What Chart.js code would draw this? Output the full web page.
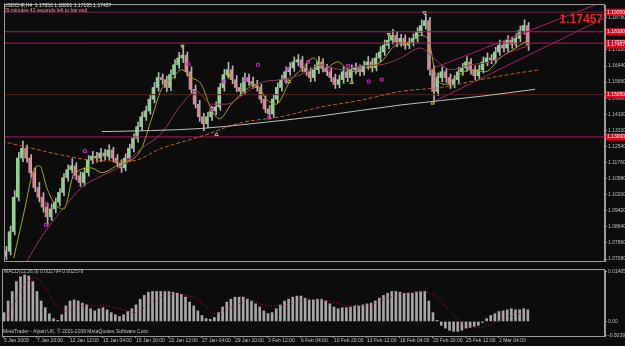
<!DOCTYPE html>
<html>
<head>
<meta charset="utf-8">
<script src="https://cdn.jsdelivr.net/npm/chart.js@4.4.1/dist/chart.umd.min.js"></script>
<style>
  body { margin: 0; background: #0c0c0c; width: 625px; height: 346px; overflow: hidden; position: relative; }
  canvas { position: absolute; left: 0; }
  #main { top: 0; }
  #macd { top: 266px; }
</style>
</head>
<body>
<canvas id="main" width="625" height="266"></canvas>
<canvas id="macd" width="625" height="80"></canvas>
<script>
// USDCHF H4, one candle here = two H4 bars
const symbol = 'USDCHF,H4';
const lastQuote = [1.17650, 1.18001, 1.17195, 1.17457];
const countdown = '29 minutes 42 seconds left to bar end';
const macdTitle = 'MACD(12,26,9) 0.002794 0.002578';
const copyright = 'MetaTrader - Alpari UK, \u00a9 2001-2008 MetaQuotes Software Corp.';

const xLabels = ['5 Jan 2009', '7 Jan 20:00', '12 Jan 12:00', '15 Jan 04:00', '19 Jan 20:00', '22 Jan 12:00',
  '27 Jan 04:00', '29 Jan 20:00', '3 Feb 12:00', '6 Feb 04:00', '10 Feb 20:00', '13 Feb 12:00',
  '18 Feb 04:00', '20 Feb 20:00', '25 Feb 12:00', '2 Mar 04:00'];
const barsPerLabel = 8;

const priceTicks = [1.07080, 1.07860, 1.08640, 1.09420, 1.10200, 1.10980, 1.11760, 1.12540,
  1.13320, 1.14100, 1.14880, 1.15660, 1.16440, 1.17220, 1.18000, 1.18780];
const macdTicks = [0.01405, 0, -0.00395];

const opens = [1.0722,1.0746,1.0841,1.1008,1.1198,1.1245,1.1198,1.1127,1.1055,1.1008,
  1.0960,1.0913,1.0951,1.0984,1.1031,1.1103,1.1141,1.1160,1.1112,1.1079,
  1.1127,1.1188,1.1207,1.1198,1.1222,1.1207,1.1236,1.1198,1.1174,1.1150,
  1.1198,1.1245,1.1293,1.1350,1.1398,1.1426,1.1483,1.1540,1.1588,1.1578,
  1.1540,1.1602,1.1650,1.1683,1.1697,1.1616,1.1531,1.1459,1.1398,1.1364,
  1.1398,1.1426,1.1445,1.1540,1.1602,1.1626,1.1578,1.1540,1.1521,1.1588,
  1.1569,1.1555,1.1540,1.1483,1.1436,1.1412,1.1483,1.1540,1.1578,1.1616,
  1.1635,1.1664,1.1674,1.1635,1.1616,1.1588,1.1626,1.1664,1.1635,1.1616,
  1.1588,1.1555,1.1578,1.1616,1.1588,1.1626,1.1635,1.1616,1.1645,1.1664,
  1.1635,1.1683,1.1712,1.1745,1.1769,1.1792,1.1759,1.1778,1.1745,1.1759,
  1.1778,1.1807,1.1840,1.1864,1.1626,1.1521,1.1588,1.1616,1.1588,1.1555,
  1.1578,1.1616,1.1635,1.1664,1.1626,1.1597,1.1626,1.1664,1.1683,1.1674,
  1.1712,1.1745,1.1731,1.1769,1.1750,1.1778,1.1816,1.1840];
const highs = [1.0770,1.0868,1.1040,1.1225,1.1280,1.1260,1.1215,1.1150,1.1080,1.1030,
  1.0978,1.0975,1.1005,1.1050,1.1122,1.1165,1.1195,1.1175,1.1130,1.1150,
  1.1210,1.1230,1.1225,1.1245,1.1240,1.1262,1.1250,1.1215,1.1190,1.1218,
  1.1265,1.1315,1.1372,1.1420,1.1450,1.1505,1.1565,1.1612,1.1605,1.1595,
  1.1625,1.1675,1.1710,1.1745,1.1712,1.1640,1.1552,1.1478,1.1415,1.1420,
  1.1448,1.1470,1.1560,1.1628,1.1662,1.1645,1.1598,1.1560,1.1610,1.1605,
  1.1590,1.1575,1.1556,1.1500,1.1452,1.1505,1.1562,1.1600,1.1640,1.1660,
  1.1688,1.1700,1.1690,1.1655,1.1635,1.1650,1.1690,1.1680,1.1652,1.1632,
  1.1605,1.1600,1.1640,1.1632,1.1648,1.1658,1.1650,1.1668,1.1690,1.1680,
  1.1705,1.1738,1.1770,1.1795,1.1822,1.1810,1.1798,1.1795,1.1780,1.1800,
  1.1830,1.1868,1.1895,1.1880,1.1645,1.1610,1.1640,1.1632,1.1605,1.1598,
  1.1638,1.1658,1.1690,1.1680,1.1645,1.1648,1.1688,1.1708,1.1700,1.1735,
  1.1770,1.1762,1.1792,1.1785,1.1800,1.1838,1.1868,1.1855];
const lows = [1.0705,1.0728,1.0825,1.0990,1.1180,1.1178,1.1105,1.1035,1.0985,1.0935,
  1.0868,1.0895,1.0932,1.0965,1.1015,1.1085,1.1125,1.1092,1.1060,1.1062,
  1.1110,1.1170,1.1178,1.1180,1.1188,1.1190,1.1178,1.1155,1.1128,1.1135,
  1.1182,1.1228,1.1275,1.1330,1.1380,1.1410,1.1465,1.1522,1.1555,1.1520,
  1.1525,1.1585,1.1632,1.1660,1.1595,1.1510,1.1440,1.1375,1.1330,1.1345,
  1.1380,1.1408,1.1430,1.1522,1.1585,1.1558,1.1520,1.1500,1.1505,1.1550,
  1.1535,1.1522,1.1465,1.1418,1.1388,1.1395,1.1465,1.1522,1.1560,1.1598,
  1.1618,1.1645,1.1615,1.1598,1.1568,1.1570,1.1608,1.1615,1.1597,1.1568,
  1.1535,1.1538,1.1560,1.1568,1.1570,1.1606,1.1596,1.1600,1.1628,1.1615,
  1.1620,1.1665,1.1695,1.1728,1.1750,1.1738,1.1740,1.1725,1.1728,1.1742,
  1.1760,1.1790,1.1822,1.1600,1.1469,1.1500,1.1568,1.1565,1.1535,1.1538,
  1.1560,1.1598,1.1618,1.1605,1.1578,1.1580,1.1610,1.1645,1.1655,1.1658,
  1.1695,1.1712,1.1715,1.1730,1.1735,1.1762,1.1798,1.1720];
const closes = [1.0746,1.0841,1.1008,1.1198,1.1245,1.1198,1.1127,1.1055,1.1008,1.0960,
  1.0913,1.0951,1.0984,1.1031,1.1103,1.1141,1.1160,1.1112,1.1079,1.1127,
  1.1188,1.1207,1.1198,1.1222,1.1207,1.1236,1.1198,1.1174,1.1150,1.1198,
  1.1245,1.1293,1.1350,1.1398,1.1426,1.1483,1.1540,1.1588,1.1578,1.1540,
  1.1602,1.1650,1.1683,1.1697,1.1616,1.1531,1.1459,1.1398,1.1364,1.1398,
  1.1426,1.1445,1.1540,1.1602,1.1626,1.1578,1.1540,1.1521,1.1588,1.1569,
  1.1555,1.1540,1.1483,1.1436,1.1412,1.1483,1.1540,1.1578,1.1616,1.1635,
  1.1664,1.1674,1.1635,1.1616,1.1588,1.1626,1.1664,1.1635,1.1616,1.1588,
  1.1555,1.1578,1.1616,1.1588,1.1626,1.1635,1.1616,1.1645,1.1664,1.1635,
  1.1683,1.1712,1.1745,1.1769,1.1792,1.1759,1.1778,1.1745,1.1759,1.1778,
  1.1807,1.1840,1.1864,1.1626,1.1521,1.1588,1.1616,1.1588,1.1555,1.1578,
  1.1616,1.1635,1.1664,1.1626,1.1597,1.1626,1.1664,1.1683,1.1674,1.1712,
  1.1745,1.1731,1.1769,1.1750,1.1778,1.1816,1.1840,1.1746];

// moving averages, read at a few bars each: [bar, price]
const maFast = [[1.9,1.0713],[4.4,1.0936],[7.0,1.1150],[8.2,1.1160],[9.9,1.1055],[11.9,1.0974],[14.1,1.0951],
  [16.5,1.1117],[20.8,1.1150],[23.3,1.1127],[27.4,1.1165],[30.5,1.1188],[33.0,1.1245],[35.4,1.1388],
  [37.8,1.1531],[40.2,1.1578],[42.7,1.1626],[45.1,1.1588],[47.5,1.1555],[49.9,1.1436],[51.9,1.1388],
  [54.8,1.1459],[57.2,1.1507],[60.8,1.1555],[63.3,1.1483],[65.7,1.1459],[69.3,1.1578],[71.8,1.1626],
  [74.9,1.1683],[77.1,1.1626],[80.7,1.1664],[83.9,1.1616],[87.5,1.1635],[91.2,1.1664],[94.8,1.1745],
  [98.4,1.1759],[100.8,1.1792],[102.8,1.1769],[104.5,1.1602],[106.9,1.1555],[109.3,1.1588],[113.0,1.1626],
  [116.6,1.1616],[120.2,1.1683],[123.9,1.1731],[127.0,1.1769]];
const maMid = [[5.1,1.0698],[8.7,1.0817],[13.6,1.0946],[18.4,1.1055],[23.3,1.1112],[28.1,1.1160],[33.0,1.1245],
  [37.8,1.1317],[42.7,1.1459],[46.3,1.1521],[49.9,1.1459],[53.6,1.1459],[57.2,1.1498],[62.1,1.1564],
  [66.9,1.1578],[71.8,1.1602],[76.6,1.1650],[81.5,1.1626],[86.3,1.1645],[91.2,1.1650],[96.0,1.1683],
  [100.8,1.1731],[104.5,1.1674],[108.1,1.1626],[113.0,1.1650],[117.8,1.1664],[122.7,1.1712],[127.5,1.1745]];
const maSlow = [[-1.0,1.1279],[6.3,1.1245],[13.6,1.1212],[23.3,1.1184],[30.5,1.1184],[37.8,1.1245],[47.5,1.1303],
  [57.2,1.1369],[66.9,1.1398],[76.6,1.1445],[86.3,1.1478],[96.0,1.1521],[105.7,1.1540],[115.4,1.1578],
  [125.1,1.1612],[129.9,1.1626]];
const maLong = [[23.3,1.1326],[35.4,1.1331],[47.5,1.1341],[59.6,1.1364],[76.6,1.1402],[96.0,1.1455],
  [115.4,1.1497],[128.7,1.1531]];

const levels = [1.1905, 1.1810, 1.1755, 1.1505, 1.1300];
const channelUpper = [[103.0, 1.1626], [145.7, 1.1959]];
const channelLower = [[103.8, 1.1469], [145.7, 1.1878]];

const fractals = [[9.7,1.0874],[9.9,1.0974],[16.5,1.1108],[19.2,1.1231],[29.8,1.1188],[44.4,1.1654],[49.9,1.1431],
  [53.1,1.1569],[58.2,1.1578],[61.3,1.1650],[64.0,1.1393],[68.1,1.1574],[68.4,1.1631],[73.5,1.1664],
  [78.5,1.1631],[83.2,1.1645],[85.8,1.1631],[88.2,1.1569],[91.4,1.1578]];
const zigzagTops = [[42.9,1.1740],[54.1,1.1597],[93.1,1.1797],[101.8,1.1902]];
const zigzagBottoms = [[51.2,1.1312],[68.8,1.1569],[84.1,1.1564],[103.8,1.1464]];

const macdHist = [0.0025,0.0058,0.0085,0.0113,0.0127,0.0132,0.0129,0.0113,0.0085,0.0058,
  0.0039,0.0022,0.0008,0.0003,0.0019,0.0044,0.0058,0.0061,0.0058,0.0052,
  0.0047,0.0036,0.0030,0.0036,0.0039,0.0033,0.0025,0.0019,0.0014,0.0019,
  0.0028,0.0036,0.0047,0.0063,0.0074,0.0083,0.0085,0.0085,0.0085,0.0085,
  0.0085,0.0083,0.0080,0.0077,0.0069,0.0055,0.0044,0.0030,0.0017,0.0008,
  0.0006,0.0011,0.0025,0.0041,0.0055,0.0063,0.0069,0.0069,0.0069,0.0063,
  0.0058,0.0050,0.0041,0.0030,0.0022,0.0025,0.0036,0.0047,0.0058,0.0063,
  0.0069,0.0072,0.0072,0.0066,0.0061,0.0061,0.0063,0.0063,0.0058,0.0050,
  0.0041,0.0036,0.0039,0.0039,0.0041,0.0044,0.0044,0.0047,0.0050,0.0052,
  0.0058,0.0066,0.0074,0.0080,0.0085,0.0085,0.0083,0.0080,0.0080,0.0080,
  0.0083,0.0085,0.0085,0.0058,0.0025,0.0003,-0.0011,-0.0019,-0.0025,-0.0028,
  -0.0028,-0.0025,-0.0019,-0.0017,-0.0014,-0.0011,-0.0003,0.0008,0.0017,0.0022,
  0.0028,0.0030,0.0033,0.0036,0.0033,0.0033,0.0036,0.0033];
const macdSignal = [[0,-0.0003],[2.7,0.0058],[5.1,0.0107],[7.5,0.0124],[9.9,0.0099],[12.8,0.0044],[14.8,0.0030],
  [18.4,0.0044],[23.3,0.0044],[28.1,0.0036],[31.8,0.0025],[35.4,0.0052],[40.2,0.0077],[45.1,0.0072],
  [48.7,0.0044],[51.2,0.0022],[54.8,0.0039],[59.6,0.0058],[64.5,0.0044],[69.3,0.0050],[74.2,0.0063],
  [79.0,0.0058],[83.9,0.0044],[88.7,0.0047],[93.6,0.0069],[100.8,0.0085],[104.5,0.0072],[108.1,0.0030],
  [111.8,-0.0011],[115.4,-0.0017],[119.0,-0.0003],[122.7,0.0017],[127.0,0.0026]];

const xMin = -0.24, xMax = 145.7;
const FRAME = '#9a9a9a';
const TXT = '#c0c0c0';
const FONT = 'Liberation Sans';
const SMALL = 5;
const levelColors = ['#6a2848', '#b01c6a', '#b01c6a', '#5a2020', '#b01c6a'];

const pts = arr => arr.map(p => ({ x: p[0], y: p[1] }));
const bull = i => closes[i] >= opens[i];

const framePlugin = {
  id: 'frame',
  beforeDraw(chart) {
    const a = chart.chartArea, c = chart.ctx;
    c.save();
    c.strokeStyle = FRAME;
    c.lineWidth = 1;
    c.strokeRect(Math.round(a.left) - 0.5, Math.round(a.top) - 0.5, Math.round(a.right - a.left), Math.round(a.bottom - a.top) + 1);
    c.restore();
  }
};

const mainText = {
  id: 'mainText',
  afterDraw(chart) {
    const c = chart.ctx, y = chart.scales.y;
    c.save();
    c.textBaseline = 'middle';
    c.font = SMALL + 'px "' + FONT + '"';
    c.fillStyle = '#e0e0e0';
    c.fillText(symbol + '  ' + lastQuote.map(v => v.toFixed(5)).join(' '), 4, 6);
    c.fillStyle = '#ff9090';
    c.fillText(countdown, 4, 11);
    // price tags on the axis
    levels.forEach(lv => {
      const py = y.getPixelForValue(lv);
      c.fillStyle = '#e8001c';
      c.fillRect(606, py - 3.5, 19, 7);
      c.fillStyle = '#ffffff';
      c.fillText(lv.toFixed(5), 607, py);
    });
    const lp = y.getPixelForValue(lastQuote[3]);
    c.fillStyle = '#e8001c';
    c.fillRect(606, lp - 3.5, 19, 7);
    c.fillStyle = '#ffffff';
    c.fillText(lastQuote[3].toFixed(5), 607, lp);
    c.font = 'bold 12px "' + FONT + '"';
    c.fillStyle = '#ff1a1a';
    c.textAlign = 'right';
    c.fillText(lastQuote[3].toFixed(5), 603, 20);
    c.restore();
  }
};

const macdText = {
  id: 'macdText',
  afterDraw(chart) {
    const c = chart.ctx;
    c.save();
    c.textBaseline = 'middle';
    c.font = SMALL + 'px "' + FONT + '"';
    c.fillStyle = TXT;
    c.fillText(macdTitle, 4, 6);
    c.fillText(copyright, 3, 66);
    c.restore();
  }
};

const levelSets = levels.map((lv, k) => ({
  type: 'line', data: [{ x: xMin, y: lv }, { x: xMax, y: lv }],
  borderColor: levelColors[k], borderWidth: 1, pointRadius: 0, order: 1
}));

new Chart(document.getElementById('main'), {
  type: 'bar',
  data: {
    datasets: [
      ...levelSets,
      { type: 'line', data: pts(channelUpper), borderColor: '#b01c6a', borderWidth: 1, pointRadius: 0, order: 1 },
      { type: 'line', data: pts(channelLower), borderColor: '#b01c6a', borderWidth: 1, pointRadius: 0, order: 1 },
      { data: closes.map((c, i) => ({ x: i, y: [lows[i], highs[i]] })), barThickness: 1,
        backgroundColor: '#b4b4b4', order: 3 },
      { data: closes.map((c, i) => ({ x: i, y: [opens[i], c] })), barThickness: 2, minBarLength: 1,
        backgroundColor: closes.map((c, i) => bull(i) ? '#86d886' : '#d88490'), order: 2 },
      { type: 'line', data: pts(maLong), borderColor: '#c0c0c0', borderWidth: 1, pointRadius: 0, cubicInterpolationMode: 'monotone', order: 0 },
      { type: 'line', data: pts(maSlow), borderColor: '#c06020', borderWidth: 1, borderDash: [4, 2], pointRadius: 0, cubicInterpolationMode: 'monotone', order: 0 },
      { type: 'line', data: pts(maMid), borderColor: '#943858', borderWidth: 1, pointRadius: 0, cubicInterpolationMode: 'monotone', order: 0 },
      { type: 'line', data: pts(maFast), borderColor: '#a8a81c', borderWidth: 1, pointRadius: 0, cubicInterpolationMode: 'monotone', order: 0 },
      { type: 'line', data: pts(fractals), showLine: false, pointStyle: 'rect', pointRadius: 2,
        borderColor: '#d020d0', backgroundColor: 'rgba(0,0,0,0)', borderWidth: 1, order: 0 },
      { type: 'line', data: pts(zigzagTops), showLine: false, pointStyle: 'triangle', rotation: 180, pointRadius: 2,
        borderColor: '#c8c820', backgroundColor: 'rgba(0,0,0,0)', borderWidth: 1, order: 0 },
      { type: 'line', data: pts(zigzagBottoms), showLine: false, pointStyle: 'triangle', pointRadius: 2,
        borderColor: '#c8c820', backgroundColor: 'rgba(0,0,0,0)', borderWidth: 1, order: 0 }
    ]
  },
  options: {
    responsive: false,
    animation: false,
    events: [],
    layout: { padding: { left: 3, top: 4, right: 0, bottom: 1 } },
    plugins: { legend: { display: false }, tooltip: { enabled: false } },
    scales: {
      x: { type: 'linear', min: xMin, max: xMax, offset: false, display: false, grid: { offset: false } },
      y: {
        position: 'right', min: 1.06985, max: 1.19398,
        afterFit(s) { s.width = 20; },
        afterBuildTicks(s) { s.ticks = priceTicks.map(v => ({ value: v })); },
        ticks: { color: TXT, font: { size: SMALL, family: FONT }, padding: 1, autoSkip: false, callback: v => v.toFixed(5) },
        grid: { drawOnChartArea: false, color: FRAME, tickLength: 2 },
        border: { color: FRAME }
      }
    }
  },
  plugins: [framePlugin, mainText]
});

new Chart(document.getElementById('macd'), {
  type: 'bar',
  data: {
    datasets: [
      { data: macdHist.map((v, i) => ({ x: i, y: v })), barThickness: 2, backgroundColor: '#a8a8a8', order: 2 },
      { type: 'line', data: pts(macdSignal), borderColor: '#d0103c', borderWidth: 1, borderDash: [1, 2],
        pointRadius: 0, cubicInterpolationMode: 'monotone', order: 0 }
    ]
  },
  options: {
    responsive: false,
    animation: false,
    events: [],
    layout: { padding: { left: 3, top: 2, right: 0, bottom: 0 } },
    plugins: { legend: { display: false }, tooltip: { enabled: false } },
    scales: {
      x: {
        type: 'linear', min: xMin, max: xMax, offset: false,
        afterFit(s) { s.height = 10; },
        afterBuildTicks(s) { s.ticks = xLabels.map((l, k) => ({ value: k * barsPerLabel })); },
        ticks: { color: TXT, font: { size: SMALL, family: FONT }, align: 'start', maxRotation: 0, autoSkip: false, padding: 0,
          callback: v => xLabels[Math.round(v / barsPerLabel)] },
        grid: { drawOnChartArea: false, color: FRAME, tickLength: 2, offset: false },
        border: { color: FRAME }
      },
      y: {
        position: 'right', min: -0.00413, max: 0.0146,
        afterFit(s) { s.width = 20; },
        afterBuildTicks(s) { s.ticks = macdTicks.map(v => ({ value: v })); },
        ticks: { color: TXT, font: { size: SMALL, family: FONT }, padding: 1, autoSkip: false,
          callback: v => v === 0 ? '0.00' : v.toFixed(5) },
        grid: { drawOnChartArea: false, color: FRAME, tickLength: 2 },
        border: { color: FRAME }
      }
    }
  },
  plugins: [framePlugin, macdText]
});
</script>
</body>
</html>
